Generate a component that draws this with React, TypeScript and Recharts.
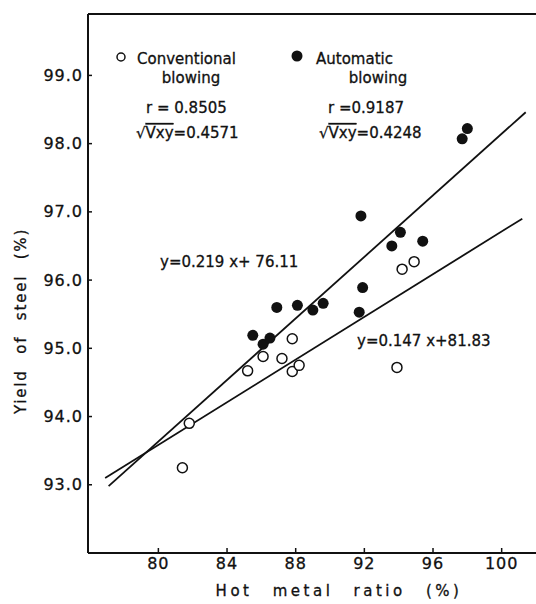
import React from 'react';
import { ScatterChart, Scatter, XAxis, YAxis, ReferenceLine } from 'recharts';

// Hot metal ratio (%) vs yield of steel (%)
const conventionalX = [81.4, 81.8, 85.2, 86.1, 87.2, 87.8, 88.2, 87.8, 93.9, 94.2, 94.9];
const conventionalY = [93.25, 93.9, 94.67, 94.88, 94.85, 94.66, 94.75, 95.14, 94.72, 96.16, 96.27];
const automaticX = [85.5, 86.1, 86.5, 86.9, 88.1, 89.0, 89.6, 91.7, 91.9, 91.8, 93.6, 94.1, 95.4, 97.7, 98.0];
const automaticY = [95.19, 95.06, 95.15, 95.6, 95.63, 95.56, 95.66, 95.53, 95.89, 96.94, 96.5, 96.7, 96.57, 98.07, 98.22];

// regression line end points as drawn
const convFitX = [76.9, 101.2];
const convFitY = [93.1, 96.9];
const autoFitX = [77.1, 101.4];
const autoFitY = [92.98, 98.46];

const xTicks = [80, 84, 88, 92, 96, 100];
const yTicks = [93, 94, 95, 96, 97, 98, 99];

const FONT = '"DejaVu Sans", sans-serif';
const INK = '#111';

const zip = (xs: number[], ys: number[]) => xs.map((x, i) => ({ x, y: ys[i] }));

const conventional = zip(conventionalX, conventionalY);
const automatic = zip(automaticX, automaticY);
const convFit = zip(convFitX, convFitY);
const autoFit = zip(autoFitX, autoFitY);

const XTick = (p: any) => (
  <text x={p.x} y={p.y + 12} textAnchor="middle" fontSize={16} fontFamily={FONT} fill={INK} stroke={INK} strokeWidth={0.3} letterSpacing={1}>
    {p.payload.value}
  </text>
);

const YTick = (p: any) => (
  <text x={p.x} y={p.y} textAnchor="end" dominantBaseline="central" fontSize={16} fontFamily={FONT} fill={INK} stroke={INK} strokeWidth={0.3} letterSpacing={1}>
    {Number(p.payload.value).toFixed(1)}
  </text>
);

const OpenDot = (p: any) => <circle cx={p.cx} cy={p.cy} r={5} fill="#fff" stroke={INK} strokeWidth={1.5} />;
const FilledDot = (p: any) => <circle cx={p.cx} cy={p.cy} r={5.5} fill={INK} />;
const NoDot = () => <g />;

const txt = { fontSize: 15, fontFamily: FONT, fill: INK, stroke: INK, strokeWidth: 0.3 } as const;

export default function App() {
  return (
    <div style={{ position: 'absolute', left: 0, top: 0, width: 536, height: 604, background: '#fff' }}>
      <ScatterChart width={536} height={604} margin={{ top: 14, right: 0, bottom: 0, left: 0 }}>
        <XAxis
          type="number"
          dataKey="x"
          domain={[75.9, 102]}
          ticks={xTicks}
          height={51}
          allowDataOverflow
          axisLine={{ stroke: INK, strokeWidth: 2 }}
          tickLine={{ stroke: INK, strokeWidth: 1.5 }}
          tickSize={-5}
          tickMargin={9}
          tick={<XTick />}
        />
        <YAxis
          type="number"
          dataKey="y"
          domain={[92, 99.9]}
          ticks={yTicks}
          width={88}
          allowDataOverflow
          axisLine={{ stroke: INK, strokeWidth: 2 }}
          tickLine={{ stroke: INK, strokeWidth: 1.5 }}
          tickSize={-4}
          tickMargin={9}
          tick={<YTick />}
        />
        <ReferenceLine y={99.9} stroke={INK} strokeWidth={2} />
        <Scatter data={convFit} line={{ stroke: INK, strokeWidth: 1.8 }} shape={<NoDot />} isAnimationActive={false} />
        <Scatter data={autoFit} line={{ stroke: INK, strokeWidth: 1.8 }} shape={<NoDot />} isAnimationActive={false} />
        <Scatter data={conventional} shape={<OpenDot />} isAnimationActive={false} />
        <Scatter data={automatic} shape={<FilledDot />} isAnimationActive={false} />
      </ScatterChart>
      <svg width={536} height={604} style={{ position: 'absolute', left: 0, top: 0, pointerEvents: 'none' }}>
        <circle cx={121} cy={57} r={4} fill="#fff" stroke={INK} strokeWidth={1.5} />
        <text x={137} y={64} {...txt}>Conventional</text>
        <text x={191} y={83} textAnchor="middle" {...txt}>blowing</text>
        <circle cx={297} cy={56} r={5.5} fill={INK} />
        <text x={316} y={64} {...txt}>Automatic</text>
        <text x={378} y={83} textAnchor="middle" {...txt}>blowing</text>
        <text x={146} y={113} {...txt}>r = 0.8505</text>
        <text x={136} y={138} {...txt}>
          √<tspan style={{ textDecoration: 'overline' }}>Vxy</tspan>=0.4571
        </text>
        <text x={328} y={113} {...txt}>r =0.9187</text>
        <text x={319} y={138} {...txt}>
          √<tspan style={{ textDecoration: 'overline' }}>Vxy</tspan>=0.4248
        </text>
        <text x={160} y={267} {...txt}>y=0.219 x+ 76.11</text>
        <text x={357} y={346} {...txt}>y=0.147 x+81.83</text>
        <text x={339} y={596} textAnchor="middle" {...txt} letterSpacing={3.5} wordSpacing={12}>
          Hot metal ratio (%)
        </text>
        <text
          x={0}
          y={0}
          transform="translate(25.5 321) rotate(-90)"
          textAnchor="middle"
          {...txt}
          letterSpacing={1.8}
          wordSpacing={9}
        >
          Yield of steel (%)
        </text>
      </svg>
    </div>
  );
}
